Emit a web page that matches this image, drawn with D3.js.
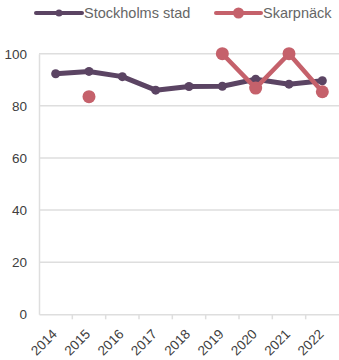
<!DOCTYPE html>
<html><head><meta charset="utf-8">
<script src="https://cdn.jsdelivr.net/npm/d3@7"></script>
<style>body{margin:0;background:#fff}svg{display:block;font-family:"Liberation Sans",Arial,sans-serif}</style>
</head><body><svg id="c" width="339" height="360"></svg>
<script>
const years = ["2014","2015","2016","2017","2018","2019","2020","2021","2022"];
const stockholm = [92.3, 93.2, 91.2, 86.0, 87.4, 87.5, 90.2, 88.3, 89.6];
const skarpnack = [null, 83.5, null, null, null, 100, 86.8, 100, 85.4];
const yTicks = [0, 20, 40, 60, 80, 100];
const seriesNames = ["Stockholms stad", "Skarpnäck"];
const colors = ["#5b4463", "#c5616b"];

const svg = d3.select("#c");
const m = {l: 39, r: 0};
const W = 339;
const x = d3.scaleBand().domain(years).range([m.l, W - m.r]);
const y = d3.scaleLinear().domain([0, 100]).range([314.3, 53.7]);

// grid
svg.append("g").selectAll("line").data(yTicks.filter(d => d > 0)).join("line")
  .attr("x1", m.l).attr("x2", W).attr("y1", d => y(d)).attr("y2", d => y(d))
  .attr("stroke", "#dedede").attr("stroke-width", 1.5);

// y axis
const ya = svg.append("g").attr("transform", `translate(${m.l},0)`)
  .call(d3.axisLeft(y).tickValues(yTicks).tickSize(0).tickPadding(12));
ya.select(".domain").attr("stroke", "#dedede").attr("stroke-width", 1.5);
ya.selectAll("text").attr("font-size", 13.5).attr("fill", "#404040")
  .attr("font-family", '"Liberation Sans",Arial,sans-serif');

// x axis
const xa = svg.append("g").attr("transform", `translate(0,${y(0)})`)
  .call(d3.axisBottom(x).tickSize(0).tickFormat(""));
xa.select(".domain").attr("stroke", "#dedede").attr("stroke-width", 1.5);
const bounds = years.map(d => x(d)).concat([x(years[years.length-1]) + x.bandwidth()]);
svg.append("g").selectAll("line").data(bounds.slice(1, -1)).join("line")
  .attr("x1", d => d).attr("x2", d => d).attr("y1", y(0)).attr("y2", y(0) + 5)
  .attr("stroke", "#dedede").attr("stroke-width", 1.5);
svg.append("g").selectAll("text").data(years).join("text")
  .attr("transform", d => `translate(${x(d) + x.bandwidth()/2 - 4.5},${y(0) + 14}) rotate(-45)`)
  .attr("text-anchor", "end").attr("dy", "0.7em")
  .attr("font-size", 13.5).attr("fill", "#404040").text(d => d);

const cx = d => x(d) + x.bandwidth() / 2;

// Stockholm
const line1 = d3.line().x((d, i) => cx(years[i])).y(d => y(d));
svg.append("path").datum(stockholm).attr("d", line1).attr("fill", "none")
  .attr("stroke", colors[0]).attr("stroke-width", 5).attr("stroke-linejoin", "round");
svg.append("g").selectAll("circle").data(stockholm).join("circle")
  .attr("cx", (d, i) => cx(years[i])).attr("cy", d => y(d)).attr("r", 4.5).attr("fill", colors[0]);

// Skarpnäck
const line2 = d3.line().defined(d => d != null).x((d, i) => cx(years[i])).y(d => y(d));
svg.append("path").datum(skarpnack).attr("d", line2).attr("fill", "none")
  .attr("stroke", colors[1]).attr("stroke-width", 4.5).attr("stroke-linejoin", "round");
svg.append("g").selectAll("circle").data(skarpnack.map((v, i) => ({v, i})).filter(d => d.v != null)).join("circle")
  .attr("cx", d => cx(years[d.i])).attr("cy", d => y(d.v)).attr("r", 6.5).attr("fill", colors[1]);

// legend
const leg = [{x1: 36, x2: 82, r: 3.5, tx: 84}, {x1: 216, x2: 261, r: 5.5, tx: 263}];
seriesNames.forEach((n, i) => {
  const L = leg[i];
  svg.append("line").attr("x1", L.x1).attr("x2", L.x2).attr("y1", 13).attr("y2", 13)
    .attr("stroke", colors[i]).attr("stroke-width", 4).attr("stroke-linecap", "round");
  svg.append("circle").attr("cx", (L.x1 + L.x2) / 2).attr("cy", 13).attr("r", L.r).attr("fill", colors[i]);
  svg.append("text").attr("x", L.tx).attr("y", 13).attr("dy", "0.35em")
    .attr("font-size", 14.5).attr("fill", "#666").text(n);
});
</script></body></html>
